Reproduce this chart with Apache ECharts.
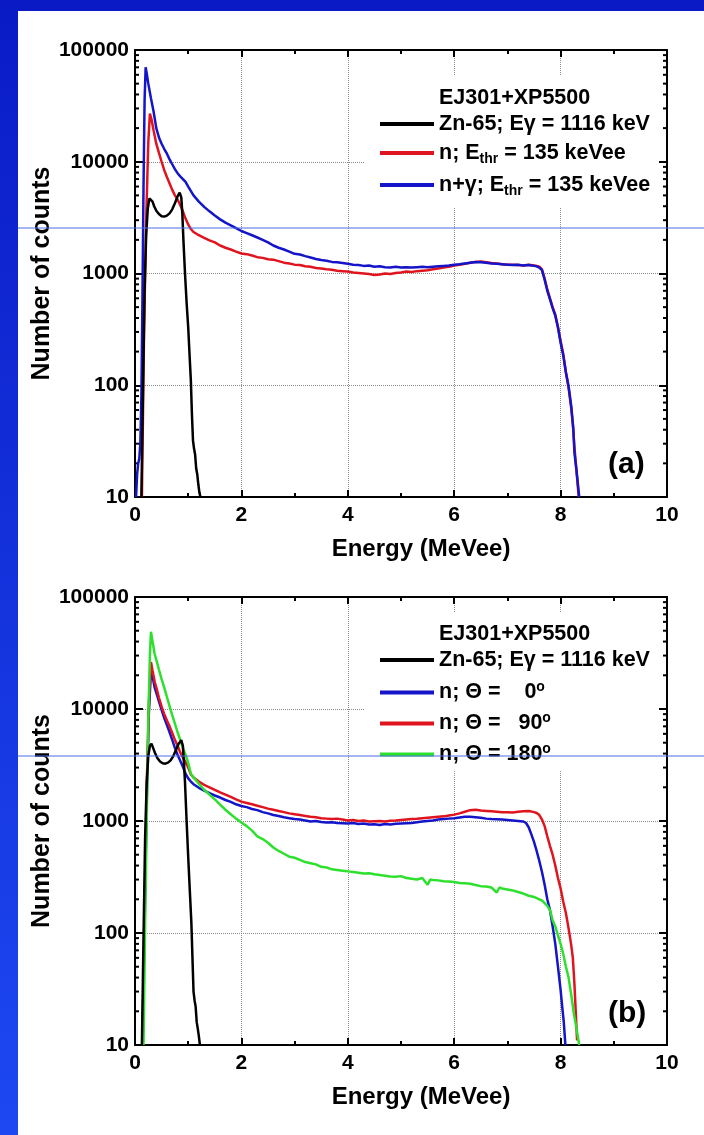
<!DOCTYPE html>
<html>
<head>
<meta charset="utf-8">
<title>EJ301+XP5500 spectra</title>
<script src="https://cdn.jsdelivr.net/npm/echarts@6/dist/echarts.min.js"></script>
<style>
  html, body { margin: 0; padding: 0; background: #fff; }
  #chart { width: 704px; height: 1135px; }
</style>
</head>
<body>
<div id="chart"></div>
<script>
// Axis ticks shared by both panels
const xTicks = [0, 2, 4, 6, 8, 10];
const yTicks = [10, 100, 1000, 10000, 100000];

// Legend labels (rich-text markup for subscripts / degree sign)
const namesA = ['Zn-65; Eγ = 1116 keV', 'n; E{sub|thr} = 135 keVee', 'n+γ; E{sub|thr} = 135 keVee'];
const namesB = ['Zn-65; Eγ = 1116 keV', 'n; Θ =    0{sup|o}', 'n; Θ =   90{sup|o}', 'n; Θ = 180{sup|o}'];

// Panel (a): [energy MeVee, counts]
const aZn65 = [[0.12,10],[0.15,90],[0.18,700],[0.21,2200],[0.24,3800],[0.27,4700],[0.3,4750],[0.33,4400],[0.36,4000],[0.4,3650],[0.45,3400],[0.5,3260],[0.55,3230],[0.6,3300],[0.65,3450],[0.7,3750],[0.75,4250],[0.8,4900],[0.84,5300],[0.87,4800],[0.89,3400],[0.91,2000],[0.94,1000],[0.97,550],[1.0,330],[1.03,170],[1.05,110],[1.07,55],[1.09,32],[1.11,27],[1.13,24],[1.15,18],[1.17,16],[1.19,13],[1.21,11],[1.23,10]];

const aN = [[0.13,10],[0.17,300],[0.21,3000],[0.25,15000],[0.28,27000],[0.31,24000],[0.35,19000],[0.4,14500],[0.45,12000],[0.5,10000],[0.55,8400],[0.6,7300],[0.65,6400],[0.7,5600],[0.75,5000],[0.8,4600],[0.85,4100],[0.9,3600],[0.95,3100],[1.0,2750],[1.05,2500],[1.1,2350],[1.2,2200],[1.3,2080],[1.4,1980],[1.5,1900],[1.6,1780],[1.7,1700],[1.8,1640],[1.9,1570],[2.0,1510],[2.1,1490],[2.2,1450],[2.3,1400],[2.4,1380],[2.5,1340],[2.6,1330],[2.7,1290],[2.8,1250],[2.9,1230],[3.0,1200],[3.1,1190],[3.2,1160],[3.3,1150],[3.4,1120],[3.5,1110],[3.6,1090],[3.7,1080],[3.8,1060],[3.9,1050],[4.0,1040],[4.1,1020],[4.2,1010],[4.3,1000],[4.4,990],[4.5,970],[4.6,980],[4.7,1000],[4.8,990],[4.9,1010],[5.0,1020],[5.1,1040],[5.2,1030],[5.3,1050],[5.4,1060],[5.5,1070],[5.6,1090],[5.7,1110],[5.8,1130],[5.9,1150],[6.0,1180],[6.1,1200],[6.2,1220],[6.3,1250],[6.4,1270],[6.5,1280],[6.6,1260],[6.7,1240],[6.8,1230],[6.9,1210],[7.0,1200],[7.1,1200],[7.2,1190],[7.3,1180],[7.4,1200],[7.5,1180],[7.55,1170],[7.6,1150],[7.65,1090],[7.7,900],[7.75,720],[7.8,600],[7.85,500],[7.9,430],[7.95,330],[8.0,250],[8.05,190],[8.1,130],[8.15,95],[8.2,62],[8.23,45],[8.26,28],[8.3,17],[8.34,10]];

const aNG = [[0.02,10],[0.04,16],[0.06,20],[0.08,22],[0.1,30],[0.12,80],[0.14,600],[0.16,6000],[0.18,35000],[0.2,70000],[0.22,62000],[0.25,50000],[0.3,37000],[0.35,28000],[0.4,20000],[0.45,16500],[0.5,14500],[0.55,13000],[0.6,11800],[0.65,10500],[0.7,9500],[0.75,8600],[0.8,7900],[0.85,7400],[0.9,7000],[0.95,6600],[1.0,6000],[1.1,5000],[1.2,4400],[1.3,3950],[1.4,3600],[1.5,3300],[1.6,3050],[1.7,2850],[1.8,2700],[1.9,2550],[2.0,2400],[2.1,2300],[2.2,2200],[2.3,2100],[2.4,2000],[2.5,1900],[2.6,1780],[2.7,1700],[2.8,1640],[2.9,1570],[3.0,1500],[3.1,1480],[3.2,1430],[3.3,1390],[3.4,1350],[3.5,1320],[3.6,1300],[3.7,1270],[3.8,1260],[3.9,1240],[4.0,1220],[4.1,1200],[4.2,1190],[4.3,1170],[4.4,1180],[4.5,1150],[4.6,1160],[4.7,1140],[4.8,1130],[4.9,1150],[5.0,1130],[5.1,1140],[5.2,1130],[5.3,1140],[5.4,1150],[5.5,1140],[5.6,1150],[5.7,1160],[5.8,1170],[5.9,1180],[6.0,1200],[6.1,1210],[6.2,1230],[6.3,1250],[6.4,1270],[6.5,1260],[6.6,1250],[6.7,1230],[6.8,1220],[6.9,1210],[7.0,1200],[7.1,1190],[7.2,1200],[7.3,1180],[7.4,1190],[7.5,1170],[7.55,1160],[7.6,1130],[7.65,1070],[7.7,880],[7.75,700],[7.8,590],[7.85,490],[7.9,420],[7.95,330],[8.0,240],[8.05,185],[8.1,130],[8.15,98],[8.2,65],[8.24,40],[8.26,25],[8.3,17],[8.35,10]];

// Panel (b): [energy MeVee, counts]
const bZn65 = [[0.13,10],[0.16,90],[0.19,700],[0.22,2200],[0.25,3800],[0.28,4700],[0.31,4900],[0.34,4500],[0.38,4000],[0.42,3650],[0.47,3400],[0.52,3280],[0.57,3250],[0.62,3320],[0.67,3480],[0.72,3800],[0.77,4300],[0.82,4900],[0.87,5270],[0.9,4700],[0.92,3300],[0.94,2200],[0.97,1000],[1.0,480],[1.03,240],[1.06,122],[1.08,60],[1.1,30],[1.12,25],[1.14,22],[1.16,16],[1.18,14],[1.2,12],[1.22,10]];

const bDeg0 = [[0.14,10],[0.18,120],[0.22,1500],[0.26,9000],[0.3,22000],[0.33,19500],[0.37,15500],[0.41,13500],[0.45,11700],[0.5,9800],[0.55,8300],[0.6,7200],[0.65,6200],[0.7,5300],[0.75,4500],[0.8,3900],[0.85,3450],[0.9,3050],[0.95,2650],[1.0,2400],[1.05,2250],[1.1,2130],[1.2,1980],[1.3,1870],[1.4,1770],[1.5,1690],[1.6,1620],[1.7,1540],[1.8,1480],[1.9,1410],[2.0,1360],[2.1,1330],[2.2,1280],[2.3,1250],[2.4,1200],[2.5,1170],[2.6,1130],[2.7,1110],[2.8,1080],[2.9,1060],[3.0,1040],[3.1,1030],[3.2,1010],[3.3,990],[3.4,1000],[3.5,980],[3.6,970],[3.7,975],[3.8,960],[3.9,955],[4.0,950],[4.1,960],[4.2,940],[4.3,950],[4.4,930],[4.5,935],[4.6,920],[4.7,940],[4.8,930],[4.9,945],[5.0,950],[5.1,955],[5.2,960],[5.3,975],[5.4,990],[5.5,1000],[5.6,1010],[5.7,1030],[5.8,1040],[5.9,1050],[6.0,1060],[6.1,1075],[6.2,1090],[6.3,1090],[6.4,1080],[6.5,1070],[6.6,1050],[6.7,1040],[6.8,1035],[6.9,1030],[7.0,1020],[7.1,1010],[7.2,1000],[7.3,990],[7.35,960],[7.4,880],[7.45,760],[7.5,650],[7.55,540],[7.6,440],[7.65,350],[7.7,270],[7.75,200],[7.8,160],[7.85,115],[7.9,80],[7.95,50],[8.0,31],[8.03,22],[8.06,16],[8.09,10]];

const bDeg90 = [[0.14,10],[0.18,150],[0.22,2000],[0.26,11000],[0.3,26300],[0.33,22000],[0.37,17500],[0.41,15000],[0.45,12600],[0.5,10500],[0.55,9000],[0.6,7900],[0.65,7000],[0.7,6100],[0.75,5300],[0.8,4700],[0.85,4100],[0.9,3700],[0.95,3350],[1.0,3000],[1.05,2600],[1.1,2450],[1.2,2250],[1.3,2100],[1.4,2000],[1.5,1900],[1.6,1800],[1.7,1720],[1.8,1640],[1.9,1560],[2.0,1490],[2.1,1450],[2.2,1410],[2.3,1370],[2.4,1330],[2.5,1290],[2.6,1260],[2.7,1230],[2.8,1200],[2.9,1170],[3.0,1150],[3.1,1130],[3.2,1110],[3.3,1090],[3.4,1080],[3.5,1060],[3.6,1050],[3.7,1040],[3.8,1050],[3.9,1030],[4.0,1010],[4.1,1020],[4.2,1000],[4.3,1010],[4.4,990],[4.5,995],[4.6,1000],[4.7,990],[4.8,1005],[4.9,1010],[5.0,1020],[5.1,1030],[5.2,1040],[5.3,1045],[5.4,1060],[5.5,1070],[5.6,1080],[5.7,1090],[5.8,1100],[5.9,1120],[6.0,1140],[6.1,1170],[6.2,1210],[6.3,1250],[6.4,1260],[6.5,1240],[6.6,1230],[6.7,1220],[6.8,1210],[6.9,1200],[7.0,1200],[7.1,1190],[7.2,1210],[7.3,1220],[7.4,1230],[7.5,1200],[7.55,1180],[7.6,1130],[7.65,1030],[7.7,900],[7.75,730],[7.8,600],[7.85,500],[7.9,400],[7.95,310],[8.0,250],[8.05,190],[8.1,150],[8.15,110],[8.2,78],[8.23,60],[8.26,35],[8.28,22],[8.31,11]];

const bDeg180 = [[0.16,10],[0.19,120],[0.22,1000],[0.25,8000],[0.28,30000],[0.3,49000],[0.33,40000],[0.37,31000],[0.41,26500],[0.45,22500],[0.5,18500],[0.55,15500],[0.6,12800],[0.65,10600],[0.7,8800],[0.75,7400],[0.8,6200],[0.85,5300],[0.9,4500],[0.95,3900],[1.0,3300],[1.05,2650],[1.1,2450],[1.2,2150],[1.3,1900],[1.4,1720],[1.5,1560],[1.6,1400],[1.7,1260],[1.8,1150],[1.9,1050],[2.0,970],[2.1,900],[2.2,820],[2.3,730],[2.4,690],[2.5,640],[2.6,580],[2.7,540],[2.8,510],[2.9,480],[3.0,470],[3.1,450],[3.2,430],[3.3,420],[3.4,410],[3.5,390],[3.6,385],[3.7,370],[3.8,365],[3.9,360],[4.0,355],[4.1,350],[4.2,345],[4.3,340],[4.4,342],[4.5,335],[4.6,330],[4.7,325],[4.8,320],[4.9,318],[5.0,322],[5.1,310],[5.2,305],[5.3,300],[5.4,310],[5.5,270],[5.55,300],[5.6,298],[5.7,295],[5.8,290],[5.9,288],[6.0,285],[6.1,280],[6.2,278],[6.3,275],[6.4,268],[6.5,262],[6.6,260],[6.7,255],[6.8,230],[6.85,255],[6.9,250],[7.0,245],[7.1,240],[7.2,232],[7.3,225],[7.4,215],[7.5,210],[7.6,200],[7.65,195],[7.7,185],[7.75,175],[7.8,160],[7.85,130],[7.9,115],[7.95,95],[8.0,80],[8.05,65],[8.1,50],[8.15,40],[8.2,28],[8.25,19],[8.3,14],[8.35,10]];

const FONT = '"Liberation Sans", Arial, Helvetica, sans-serif';
const BLACK = '#000000', RED = '#e0141e', BLUE = '#1414c8', GREEN = '#2ee02e';

const RICH = {
  sub: { fontFamily: FONT, fontSize: 14, fontWeight: 'bold', color: '#000', padding: [13, 0, 0, 0], verticalAlign: 'bottom' },
  sup: { fontFamily: FONT, fontSize: 14, fontWeight: 'bold', color: '#000', padding: [0, 0, 11, 0], verticalAlign: 'top' }
};

// log-scale minor tick positions (2..9 within each decade)
const yMinor = [];
for (let i = 0; i < yTicks.length - 1; i++) {
  for (let k = 2; k <= 9; k++) yMinor.push(yTicks[i] * k);
}

const grids = [
  { left: 135, top: 50, width: 532, height: 447 },
  { left: 135, top: 597, width: 532, height: 448 }
];

function makeXAxes(gi) {
  const base = {
    type: 'value', gridIndex: gi,
    min: xTicks[0], max: xTicks[xTicks.length - 1], interval: xTicks[1] - xTicks[0],
    axisLine: { onZero: false, lineStyle: { color: '#000', width: 2 } },
    axisTick: { inside: true, length: 7, lineStyle: { color: '#000', width: 2 } },
    minorTick: { show: true, splitNumber: 2, length: 4, lineStyle: { color: '#000', width: 2 } }
  };
  return [
    Object.assign({}, base, {
      position: 'bottom',
      axisLabel: { margin: 8, color: '#000', fontFamily: FONT, fontSize: 21, fontWeight: 'bold' },
      splitLine: { show: true, lineStyle: { color: '#8c8c8c', width: 1, type: 'dotted' } },
      name: 'Energy (MeVee)', nameLocation: 'middle', nameGap: 40,
      nameTextStyle: { color: '#000', fontFamily: FONT, fontSize: 24, fontWeight: 'bold', padding: [0, 0, 0, 40] }
    }),
    Object.assign({}, base, {
      position: 'top', axisLabel: { show: false }, splitLine: { show: false }
    })
  ];
}

function makeYAxes(gi) {
  const base = {
    type: 'log', logBase: 10, gridIndex: gi,
    min: yTicks[0], max: yTicks[yTicks.length - 1],
    axisLine: { onZero: false, lineStyle: { color: '#000', width: 2 } },
    axisTick: { inside: true, length: 8, lineStyle: { color: '#000', width: 2 } }
  };
  return [
    Object.assign({}, base, {
      position: 'left',
      axisLabel: { margin: 6, color: '#000', fontFamily: FONT, fontSize: 21, fontWeight: 'bold',
        formatter: v => String(Math.round(v)) },
      splitLine: { show: true, lineStyle: { color: '#8c8c8c', width: 1, type: 'dotted' } },
      name: 'Number of counts', nameLocation: 'middle', nameGap: 80, nameRotate: 90,
      nameMoveOverlap: false,
      nameTextStyle: { color: '#000', fontFamily: FONT, fontSize: 25, fontWeight: 'bold' }
    }),
    Object.assign({}, base, {
      position: 'right', axisLabel: { show: false }, splitLine: { show: false }
    })
  ];
}

function line(name, data, color, gi) {
  return {
    type: 'line', name: name, data: data,
    xAxisIndex: gi * 2, yAxisIndex: gi * 2,
    showSymbol: false, symbol: 'none', clip: true,
    lineStyle: { color: color, width: 2.5 }, itemStyle: { color: color },
    emphasis: { disabled: true }
  };
}

// short inward minor ticks on both log axes of a panel
function minorTicks(gi) {
  return {
    type: 'custom', xAxisIndex: gi * 2, yAxisIndex: gi * 2,
    silent: true, clip: false, z: 3,
    data: yMinor.map(v => [xTicks[0], v]),
    encode: { x: 0, y: 1 },
    renderItem: function (params, api) {
      const cs = params.coordSys;
      const y = api.coord([api.value(0), api.value(1)])[1];
      const st = { stroke: '#000', lineWidth: 2 };
      return {
        type: 'group',
        children: [
          { type: 'line', shape: { x1: cs.x, y1: y, x2: cs.x + 4, y2: y }, style: st },
          { type: 'line', shape: { x1: cs.x + cs.width - 4, y1: y, x2: cs.x + cs.width, y2: y }, style: st }
        ]
      };
    }
  };
}

function legendRow(name, top) {
  return {
    data: [name], left: 380, top: top, padding: 0,
    icon: 'rect', itemWidth: 54, itemHeight: 4, selectedMode: false,
    formatter: '{name}',
    textStyle: { color: '#000', fontFamily: FONT, fontSize: 21.5, fontWeight: 'bold', rich: RICH }
  };
}

const option = {
  backgroundColor: '#ffffff',
  animation: false,
  grid: grids,
  xAxis: makeXAxes(0).concat(makeXAxes(1)),
  yAxis: makeYAxes(0).concat(makeYAxes(1)),
  legend: [
    legendRow(namesA[0], 113), legendRow(namesA[1], 142), legendRow(namesA[2], 174),
    legendRow(namesB[0], 649), legendRow(namesB[1], 680), legendRow(namesB[2], 711), legendRow(namesB[3], 742)
  ],
  series: [
    line(namesA[1], aN, RED, 0),
    line(namesA[2], aNG, BLUE, 0),
    line(namesA[0], aZn65, BLACK, 0),
    line(namesB[1], bDeg0, BLUE, 1),
    line(namesB[2], bDeg90, RED, 1),
    line(namesB[3], bDeg180, GREEN, 1),
    line(namesB[0], bZn65, BLACK, 1),
    minorTicks(0),
    minorTicks(1)
  ],
  graphic: [
    // white backing behind each legend block
    { type: 'rect', shape: { x: 365, y: 75, width: 293, height: 133 }, style: { fill: '#fff' }, z: 1 },
    { type: 'rect', shape: { x: 365, y: 613, width: 293, height: 158 }, style: { fill: '#fff' }, z: 1 },
    { type: 'text', left: 439, top: 87, z: 5,
      style: { text: 'EJ301+XP5500', font: 'bold 21.5px ' + FONT, fill: '#000' } },
    { type: 'text', left: 439, top: 623, z: 5,
      style: { text: 'EJ301+XP5500', font: 'bold 21.5px ' + FONT, fill: '#000' } },
    { type: 'text', left: 608, top: 450, z: 5,
      style: { text: '(a)', font: 'bold 30px ' + FONT, fill: '#000' } },
    { type: 'text', left: 608, top: 999, z: 5,
      style: { text: '(b)', font: 'bold 30px ' + FONT, fill: '#000' } },
    // slide frame
    { type: 'rect', shape: { x: 0, y: 0, width: 704, height: 11 }, style: { fill: '#0a1bc6' }, z: 100 },
    { type: 'rect', shape: { x: 0, y: 0, width: 18, height: 1135 }, z: 100,
      style: { fill: { type: 'linear', x: 0, y: 0, x2: 0, y2: 1,
        colorStops: [{ offset: 0, color: '#0a1bc6' }, { offset: 1, color: '#1d48f2' }] } } },
    { type: 'line', shape: { x1: 18, y1: 228, x2: 704, y2: 228 }, style: { stroke: '#4a6ce6', lineWidth: 1 }, z: 100 },
    { type: 'line', shape: { x1: 18, y1: 756, x2: 704, y2: 756 }, style: { stroke: '#4a6ce6', lineWidth: 1 }, z: 100 }
  ]
};

const chart = echarts.init(document.getElementById('chart'), null, { renderer: 'canvas' });
chart.setOption(option);
</script>
</body>
</html>
